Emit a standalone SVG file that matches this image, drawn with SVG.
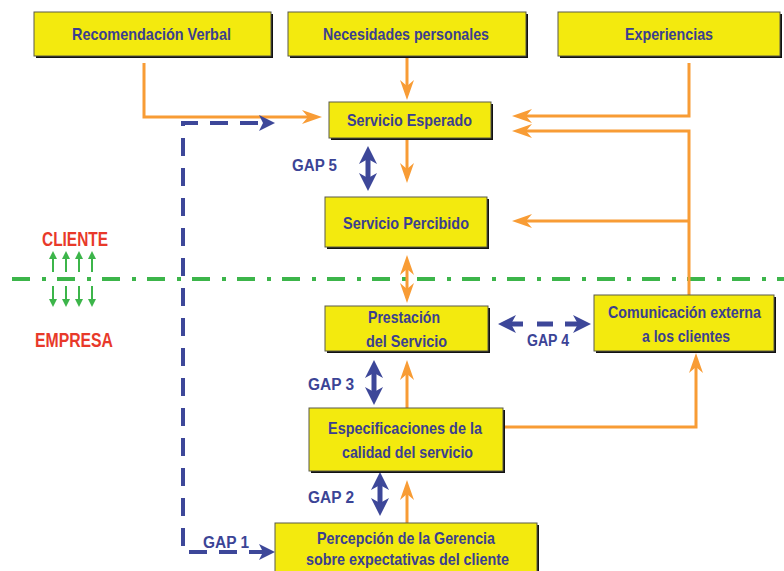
<svg xmlns="http://www.w3.org/2000/svg" width="784" height="571" viewBox="0 0 784 571">
<style>
.box{fill:#f3ea0e;stroke:#5a5a4a;stroke-width:1}
.sh{fill:#111}
.t{font-family:'Liberation Sans Narrow','Liberation Sans',Arial,sans-serif;font-weight:bold;font-size:17px;fill:#3b3f8f}
.g{font-family:'Liberation Sans Narrow','Liberation Sans',Arial,sans-serif;font-weight:bold;font-size:16px;fill:#3b4496}
.r{font-family:'Liberation Sans Narrow','Liberation Sans',Arial,sans-serif;font-weight:bold;font-size:20px;fill:#e8392a}
.o{fill:none;stroke:#f89c35;stroke-width:3}
.b{fill:none;stroke:#3d4799;stroke-width:5}
.bd{fill:none;stroke:#3d4799;stroke-width:4;stroke-dasharray:18 12}
.gr{fill:none;stroke:#3cb54a;stroke-width:2}
</style>
<defs>
<marker id="oa" viewBox="0 0 20 14" refX="14" refY="7" markerWidth="20" markerHeight="14" markerUnits="userSpaceOnUse" orient="auto-start-reverse"><path d="M0,0 L20,7 L0,14 L6,7 Z" fill="#f89c35"/></marker>
<marker id="ba" viewBox="0 0 18 18" refX="10" refY="9" markerWidth="18" markerHeight="18" markerUnits="userSpaceOnUse" orient="auto-start-reverse"><path d="M0,0 L18,9 L0,18 L5,9 Z" fill="#3d4799"/></marker>
<marker id="bs" viewBox="0 0 16 16" refX="8" refY="8" markerWidth="16" markerHeight="16" markerUnits="userSpaceOnUse" orient="auto-start-reverse"><path d="M0,0 L16,8 L0,16 L4,8 Z" fill="#3d4799"/></marker>
<marker id="ga" viewBox="0 0 8 8" refX="5" refY="4" markerWidth="8" markerHeight="8" markerUnits="userSpaceOnUse" orient="auto"><path d="M0,0 L8,4 L0,8 Z" fill="#3cb54a"/></marker>
</defs>
<rect width="784" height="571" fill="#fff"/>

<g id="divider">
<path d="M12,279 H784" fill="none" stroke="#3cb54a" stroke-width="4" stroke-dasharray="18 12 4 11"/>
</g>

<g id="connectors">
<path class="o" d="M144,63 V117 H316" marker-end="url(#oa)"/>
<path class="o" d="M407,57 V94" marker-end="url(#oa)"/>
<path class="o" d="M689,63 V116 H518" marker-end="url(#oa)"/>
<path class="o" d="M689,295 V131 H518" marker-end="url(#oa)"/>
<path class="o" d="M689,221 H518" marker-end="url(#oa)"/>
<path class="o" d="M407,139 V177" marker-end="url(#oa)"/>
<path class="o" d="M407,261 V297" marker-start="url(#oa)" marker-end="url(#oa)"/>
<path class="o" d="M407,408 V366" marker-end="url(#oa)"/>
<path class="o" d="M407,523 V486" marker-end="url(#oa)"/>
<path class="o" d="M504,427 H696 V359" marker-end="url(#oa)"/>
<path class="b" d="M368,154 V183" marker-start="url(#ba)" marker-end="url(#ba)"/>
<path class="b" d="M374,368 V397" marker-start="url(#ba)" marker-end="url(#ba)"/>
<path class="b" d="M380,480 V508" marker-start="url(#ba)" marker-end="url(#ba)"/>
<path class="b" d="M523,324 H506" marker-end="url(#ba)"/>
<path class="b" d="M537,324 H553"/>
<path class="b" d="M565,324 H583" marker-end="url(#ba)"/>
<path class="bd" d="M267,552 H183 V123 H267" marker-start="url(#bs)" marker-end="url(#bs)"/>
<path class="gr" d="M53,272 V254" marker-end="url(#ga)"/>
<path class="gr" d="M66,272 V254" marker-end="url(#ga)"/>
<path class="gr" d="M79,272 V254" marker-end="url(#ga)"/>
<path class="gr" d="M92,272 V254" marker-end="url(#ga)"/>
<path class="gr" d="M53,286 V304" marker-end="url(#ga)"/>
<path class="gr" d="M66,286 V304" marker-end="url(#ga)"/>
<path class="gr" d="M79,286 V304" marker-end="url(#ga)"/>
<path class="gr" d="M92,286 V304" marker-end="url(#ga)"/>
</g>

<g id="n-recomendacion">
<rect class="sh" x="36" y="14" width="237" height="44"/>
<rect class="box" x="34" y="12" width="237" height="44"/>
<text class="t" x="72" y="40" font-size="18" textLength="159" lengthAdjust="spacingAndGlyphs">Recomendación Verbal</text>
</g>
<g id="n-necesidades">
<rect class="sh" x="290" y="14" width="238" height="44"/>
<rect class="box" x="288" y="12" width="238" height="44"/>
<text class="t" x="323" y="40" font-size="18" textLength="166" lengthAdjust="spacingAndGlyphs">Necesidades personales</text>
</g>
<g id="n-experiencias">
<rect class="sh" x="560" y="14" width="222" height="44"/>
<rect class="box" x="558" y="12" width="222" height="44"/>
<text class="t" x="625" y="40" font-size="18" textLength="88" lengthAdjust="spacingAndGlyphs">Experiencias</text>
</g>
<g id="n-esperado">
<rect class="sh" x="331" y="104" width="162" height="36"/>
<rect class="box" x="329" y="102" width="162" height="36"/>
<text class="t" x="347" y="126" textLength="125" lengthAdjust="spacingAndGlyphs">Servicio Esperado</text>
</g>
<g id="n-percibido">
<rect class="sh" x="327" y="199" width="162" height="50"/>
<rect class="box" x="325" y="197" width="162" height="50"/>
<text class="t" x="343" y="229" textLength="126" lengthAdjust="spacingAndGlyphs">Servicio Percibido</text>
</g>
<g id="n-prestacion">
<rect class="sh" x="327" y="308" width="163" height="45"/>
<rect class="box" x="325" y="306" width="163" height="45"/>
<text class="t" x="368" y="323" textLength="72" lengthAdjust="spacingAndGlyphs">Prestación</text>
<text class="t" x="366" y="347" textLength="81" lengthAdjust="spacingAndGlyphs">del Servicio</text>
</g>
<g id="n-especificaciones">
<rect class="sh" x="311" y="410" width="194" height="63"/>
<rect class="box" x="309" y="408" width="194" height="63"/>
<text class="t" x="328" y="434" textLength="154" lengthAdjust="spacingAndGlyphs">Especificaciones de la</text>
<text class="t" x="342" y="458" textLength="131" lengthAdjust="spacingAndGlyphs">calidad del servicio</text>
</g>
<g id="n-percepcion">
<rect class="sh" x="277" y="525" width="262" height="60"/>
<rect class="box" x="275" y="523" width="262" height="60"/>
<text class="t" x="317" y="544" textLength="178" lengthAdjust="spacingAndGlyphs">Percepción de la Gerencia</text>
<text class="t" x="306" y="565" textLength="203" lengthAdjust="spacingAndGlyphs">sobre expectativas del cliente</text>
</g>
<g id="n-comunicacion">
<rect class="sh" x="596" y="297" width="180" height="56"/>
<rect class="box" x="594" y="295" width="180" height="56"/>
<text class="t" x="684.5" y="318" font-size="15" text-anchor="middle" textLength="153" lengthAdjust="spacingAndGlyphs">Comunicación externa</text>
<text class="t" x="686" y="342" text-anchor="middle" textLength="88" lengthAdjust="spacingAndGlyphs">a los clientes</text>
</g>

<g id="labels">
<text class="g" x="292" y="171" textLength="45" lengthAdjust="spacingAndGlyphs">GAP 5</text>
<text class="g" x="308" y="390" textLength="46" lengthAdjust="spacingAndGlyphs">GAP 3</text>
<text class="g" x="308" y="503" textLength="46" lengthAdjust="spacingAndGlyphs">GAP 2</text>
<text class="g" x="203" y="548" textLength="46" lengthAdjust="spacingAndGlyphs">GAP 1</text>
<text class="g" x="527" y="346" textLength="42" lengthAdjust="spacingAndGlyphs">GAP 4</text>
<text class="r" x="42" y="246" textLength="66" lengthAdjust="spacingAndGlyphs">CLIENTE</text>
<text class="r" x="35" y="347" textLength="78" lengthAdjust="spacingAndGlyphs">EMPRESA</text>
</g>
</svg>
